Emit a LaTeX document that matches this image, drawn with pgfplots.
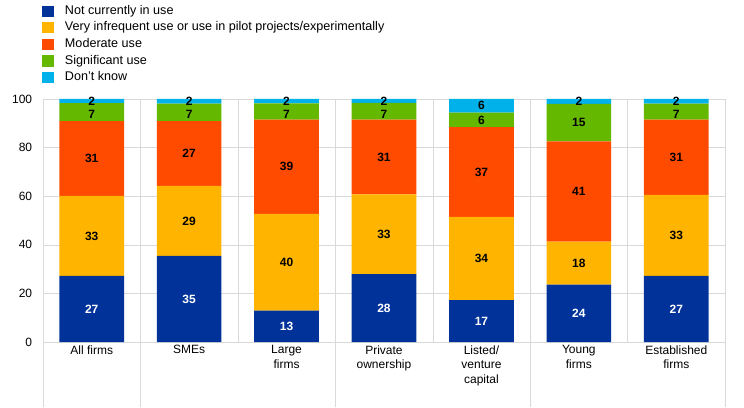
\documentclass[border=0pt]{standalone}
\usepackage{fontspec}
\setmainfont{Liberation Sans}
\usepackage{pgfplots}
\pgfplotsset{compat=1.18}
\usepackage{pgfplotstable}
\definecolor{cBlue}{HTML}{003299}
\definecolor{cYellow}{HTML}{FFB400}
\definecolor{cRed}{HTML}{FF4B00}
\definecolor{cGreen}{HTML}{65B800}
\definecolor{cLBlue}{HTML}{00B1EA}
\definecolor{cGrid}{HTML}{D9D9D9}

\pgfplotstableread{
x notuse infreq moderate significant dontknow
0 27.2 32.9 30.8 7.4 1.7
1 35.4 28.8 26.7 7.2 1.9
2 12.9 39.8 38.8 6.7 1.8
3 27.9 32.9 30.7 6.9 1.6
4 17.2 34.3 36.9 6.0 5.6
5 23.6 17.7 41.3 15.4 2.0
6 27.2 33.3 31.0 6.6 1.9
}\data

\pgfplotstableread{
x y lab
0 13.6 27
1 17.7 35
2 6.45 13
3 13.95 28
4 8.6 17
5 11.8 24
6 13.6 27
}\bluelab

\pgfplotstableread{
x y lab
0 43.65 33
1 49.8 29
2 32.8 40
3 44.35 33
4 34.35 34
5 32.45 18
6 43.85 33
0 75.5 31
1 77.55 27
2 72.1 39
3 76.15 31
4 69.95 37
5 61.95 41
6 76.0 31
0 93.6 7
1 93.6 7
2 93.8 7
3 93.8 7
4 91.4 6
5 90.3 15
6 93.8 7
0 99.1 2
1 99.1 2
2 99.1 2
3 99.2 2
4 97.2 6
5 99.0 2
6 99.1 2
}\otherlab

\pgfplotsset{
  sq/.style={legend image code/.code={\fill[##1] (0pt,-5.5pt) rectangle (11.5pt,5.8pt); \path (22.5pt,0pt);}},
  common/.style={scale only axis, width=682pt, height=243pt,
    xmin=-0.5, xmax=6.5, ymin=0, ymax=100},
}

\begin{document}
\begin{tikzpicture}
\path[use as bounding box] (-43pt,-65pt) rectangle (701pt,342pt);
\begin{axis}[common,
  ybar stacked, bar width=64.7pt,
  axis line style={cGrid},
  xtick={0,...,6},
  xticklabels={All firms, SMEs, {Large\\firms}, {Private\\ownership}, {Listed/\\venture\\capital}, {Young\\firms}, {Established\\firms}},
  xticklabel style={align=center, font=\fontsize{12}{14.7}\selectfont},
  minor xtick={-0.5,0.5,...,6.5},
  xminorgrids,
  minor grid style={cGrid},
  major grid style={cGrid},
  ytick={0,20,...,100},
  ymajorgrids,
  major tick length=0pt, minor tick length=0pt,
  tick pos=left,
  yticklabel style={font=\fontsize{12}{14}\selectfont, xshift=-7.3pt},
  /pgf/number format/assume math mode=true,
  extra x ticks={-0.5,0.5,2.5,4.5,6.5},
  extra x tick labels={},
  extra x tick style={major tick length=65pt, tick align=outside, major tick style={cGrid}, grid=none},
  legend style={at={(axis description cs:0,1)}, anchor=north west, yshift=93.5pt, xshift=-0.5pt,
    draw=none, fill=none, inner sep=0pt, outer sep=0pt, column sep=0pt,
    font=\fontsize{12.6}{14}\selectfont, row sep=4.5pt,
    nodes={inner sep=0pt, text height=9pt, text depth=3pt}},
  legend cell align=left,
]
\addplot[fill=cBlue, draw=none, sq] table[x=x, y=notuse] {\data};
\addlegendentry{Not currently in use}
\addplot[fill=cYellow, draw=none, sq] table[x=x, y=infreq] {\data};
\addlegendentry{Very infrequent use or use in pilot projects/experimentally}
\addplot[fill=cRed, draw=none, sq] table[x=x, y=moderate] {\data};
\addlegendentry{Moderate use}
\addplot[fill=cGreen, draw=none, sq] table[x=x, y=significant] {\data};
\addlegendentry{Significant use}
\addplot[fill=cLBlue, draw=none, sq] table[x=x, y=dontknow] {\data};
\addlegendentry{Don't know}
\end{axis}
\begin{axis}[common, hide axis, clip=false,
  nodes near coords, point meta=explicit symbolic,
  every node near coord/.append style={anchor=center, inner sep=0pt, font=\fontsize{12}{14}\selectfont\bfseries},
]
\addplot[only marks, mark=none, every node near coord/.append style={text=white}] table[x=x, y=y, meta=lab] {\bluelab};
\addplot[only marks, mark=none, every node near coord/.append style={text=black}] table[x=x, y=y, meta=lab] {\otherlab};
\end{axis}
\end{tikzpicture}
\end{document}
